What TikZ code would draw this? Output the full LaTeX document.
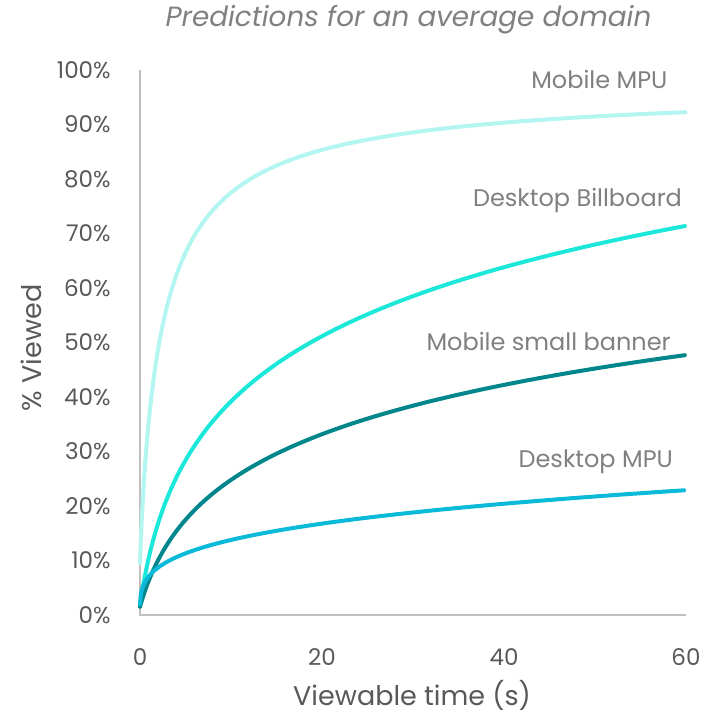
\documentclass[tikz,border=0pt]{standalone}
\usepackage{fontspec}
\setmainfont{Poppins}
\usepackage{tikz}
\usetikzlibrary{calc}

\definecolor{axisgray}{HTML}{BFBFBF}
\definecolor{darktext}{HTML}{595959}
\definecolor{lighttext}{HTML}{808080}
\definecolor{mobmpu}{HTML}{B3F5F0}
\definecolor{deskbill}{HTML}{1CE8DA}
\definecolor{mobbanner}{HTML}{00868B}
\definecolor{deskmpu}{HTML}{0ABAD8}

\tikzset{
    curve/.style={line width=2pt, line cap=round, smooth, domain=0.01:1, samples=80, variable=\s},
    axisline/.style={line width=1pt, axisgray},
    ticklabel/.style={font=\fontsize{11.5}{13}\selectfont, text=darktext, inner sep=0pt},
    curvelabel/.style={font=\fontsize{12}{14}\selectfont, text=lighttext, inner sep=0pt, anchor=east},
    axistitle/.style={font=\fontsize{13.5}{16}\selectfont, text=darktext, inner sep=0pt}
}

\begin{document}
\begin{tikzpicture}[x=4.55pt, y=2.725pt]
        \useasboundingbox (-70pt,-51.5pt) rectangle (282.5pt,307.5pt);
        % axes
        \coordinate (origin) at (0,0);
        \coordinate (xend) at (60,0);
        \coordinate (yend) at (0,100);
        \draw[axisline] (yend) -- (origin) -- (xend);
        \foreach \y in {0,10,...,100}
            \node[ticklabel, anchor=east, xshift=-14.5pt] (ytick\y) at (0,\y) {\y\%};
        \foreach \x in {0,20,40,60}
            \node[ticklabel, yshift=-21pt] (xtick\x) at (\x,0) {\x};
        \node[axistitle] (xtitle) at (29.9,-14.7) {Viewable time (s)};
        \node[axistitle, rotate=90] (ytitle) at (-11.9,49) {\% Viewed};
        \node[font=\fontsize{13.9}{16}\selectfont\itshape, text=lighttext, inner sep=0pt] (title) at (29.5,109.2) {Predictions for an average domain};
        % curves, t = 60 s^3
        \draw[curve, mobmpu] plot ({60*\s^3},{9.5+87.5*(60*\s^3)^0.9/(2.28+(60*\s^3)^0.9)});
        \draw[curve, deskbill, domain=0:1] plot ({60*\s^3},{1.8+19.38*ln(1+60*\s^3/1.7)});
        \draw[curve, mobbanner, domain=0:1] plot ({60*\s^3},{1.5+14.18*ln(1+60*\s^3/2.4)});
        \draw[curve, deskmpu, domain=0.055:1] plot ({60*\s^3},{22.9*\s^0.852});
        % labels
        \node[curvelabel] (lblmobmpu) at (58.0,98.2) {Mobile MPU};
        \node[curvelabel] (lbldeskbill) at (59.6,76.1) {Desktop Billboard};
        \node[curvelabel] (lblmobbanner) at (58.35,50.1) {Mobile small banner};
        \node[curvelabel] (lbldeskmpu) at (58.6,28.1) {Desktop MPU};
\end{tikzpicture}
\end{document}
